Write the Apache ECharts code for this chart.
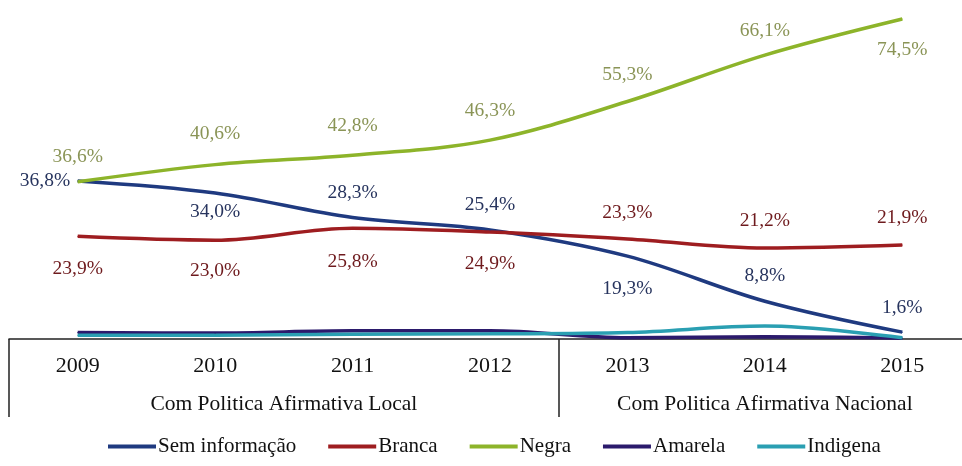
<!DOCTYPE html>
<html>
<head>
<meta charset="utf-8">
<script src="https://cdn.jsdelivr.net/npm/echarts@6/dist/echarts.min.js"></script>
<style>
  html, body { margin: 0; padding: 0; background: #fff; }
  #chart { width: 962px; height: 466px; }
</style>
</head>
<body>
<div id="chart"></div>
<script>
const years = ['2009', '2010', '2011', '2012', '2013', '2014', '2015'];
const groupLabels = ['Com Politica Afirmativa Local', 'Com Politica Afirmativa Nacional'];
const groupCenters = [2, 5.5];
const groupBounds = [0, 4];
const seriesNames = ['Sem informação', 'Branca', 'Negra', 'Amarela', 'Indigena'];
const semInfo = [36.8, 34.0, 28.3, 25.4, 19.3, 8.8, 1.6];
const branca = [23.9, 23.0, 25.8, 24.9, 23.3, 21.2, 21.9];
const negra = [36.6, 40.6, 42.8, 46.3, 55.3, 66.1, 74.5];
const amarela = [1.5, 1.4, 1.9, 1.9, 0.3, 0.5, 0.2];
const indigena = [0.9, 0.9, 1.1, 1.2, 1.5, 3.0, 0.3];

// label placement (style, not data)
const semPos = ['left', 'bottom', 'top', 'top', 'bottom', 'top', 'top'];
const semDist = [7, 8, 14, 15, 22, 15, 14];
const brancaPos = ['bottom', 'bottom', 'bottom', 'bottom', 'top', 'top', 'top'];
const brancaDist = [22, 20, 23, 21, 16, 17, 17];
const negraPos = ['top', 'top', 'top', 'top', 'top', 'top', 'bottom'];
const negraDist = [14, 20, 19, 19, 16, 14, 20];

const fmt = v => v.toFixed(1).replace('.', ',') + '%';
const SERIF = '"Liberation Serif", "DejaVu Serif", serif';

function labeled(values, pos, dist, color) {
  return values.map((v, i) => ({
    value: v,
    label: {
      show: true, position: pos[i], distance: dist[i],
      formatter: p => fmt(p.value), color: color,
      fontFamily: SERIF, fontSize: 19.5
    }
  }));
}

const colors = ['#1f3a80', '#9e1d20', '#8db42a', '#2b1a6c', '#2a9fb2'];

function lineSeries(idx, data) {
  return {
    name: seriesNames[idx], type: 'line', smooth: 0.35,
    symbol: 'circle', symbolSize: 1, showSymbol: true,
    itemStyle: { color: colors[idx] },
    lineStyle: { width: 3.5, color: colors[idx] },
    data: data
  };
}

const chart = echarts.init(document.getElementById('chart'));
chart.setOption({
  animation: false,
  color: colors,
  grid: { left: 9, width: 962, top: 4, bottom: 127, containLabel: false, outerBoundsMode: 'none' },
  legend: {
    data: seriesNames,
    bottom: 4,
    left: 103,
    icon: 'rect',
    itemWidth: 48,
    itemHeight: 4,
    itemGap: 32,
    textStyle: { fontFamily: SERIF, fontSize: 21, color: '#111', padding: [0, 0, 0, -3] }
  },
  xAxis: [
    {
      type: 'category',
      data: years,
      boundaryGap: true,
      position: 'bottom',
      axisLine: { show: true, lineStyle: { color: '#222', width: 1.5 } },
      axisTick: { show: false },
      axisLabel: { fontFamily: SERIF, fontSize: 22, color: '#111', margin: 16 },
      splitLine: { show: false }
    },
    {
      type: 'value',
      min: 0,
      max: 7,
      position: 'bottom',
      axisLine: { show: false },
      axisTick: { show: true, customValues: groupBounds, length: 78, inside: false, lineStyle: { color: '#222', width: 1.5 } },
      axisLabel: {
        customValues: groupCenters,
        formatter: v => groupLabels[groupCenters.indexOf(v)],
        fontFamily: SERIF, fontSize: 21.5, color: '#111', margin: 54
      },
      splitLine: { show: false }
    }
  ],
  yAxis: {
    type: 'value', min: 0, max: 78, show: false,
    splitLine: { show: false }
  },
  series: [
    lineSeries(0, labeled(semInfo, semPos, semDist, '#27345e')),
    lineSeries(1, labeled(branca, brancaPos, brancaDist, '#6e1a1d')),
    lineSeries(2, labeled(negra, negraPos, negraDist, '#8a9456')),
    lineSeries(3, amarela),
    lineSeries(4, indigena)
  ]
});
</script>
</body>
</html>
